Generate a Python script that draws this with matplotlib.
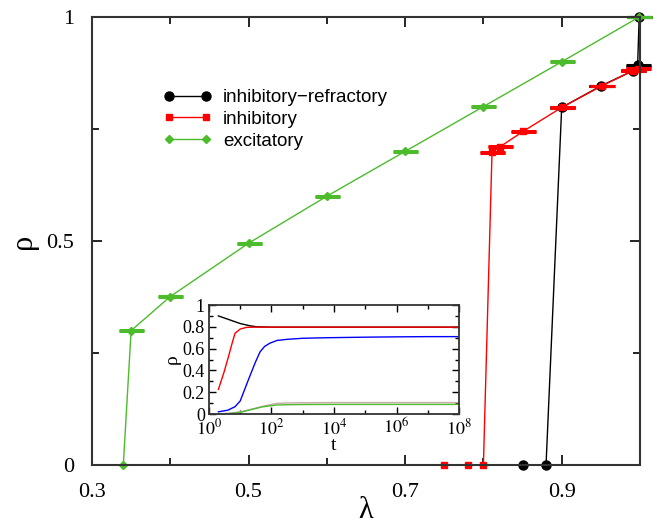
import numpy as np
import matplotlib.pyplot as plt
from matplotlib.ticker import MultipleLocator, FixedLocator, NullFormatter

plt.rcParams['font.family'] = ['Liberation Serif', 'DejaVu Serif']
plt.rcParams['mathtext.fontset'] = 'stix'

# main panel data
lam_exc = [0.34, 0.35, 0.40, 0.50, 0.60, 0.70, 0.80, 0.90, 0.999]
rho_exc = [0.0, 0.30, 0.376, 0.495, 0.60, 0.70, 0.80, 0.90, 1.0]

lam_inh = [0.75, 0.78, 0.80, 0.811, 0.821, 0.851, 0.90, 0.951, 0.991, 0.998]
rho_inh = [0.0, 0.0, 0.0, 0.698, 0.71, 0.745, 0.798, 0.846, 0.880, 0.885]

lam_ref = [0.85, 0.88, 0.90, 0.95, 0.991, 0.997, 0.999]
rho_ref = [0.0, 0.0, 0.798, 0.846, 0.880, 0.892, 1.0]

# inset data: time evolution
t_black = [2, 4, 10, 20, 34, 100, 1e3, 1e4, 1e5, 1e6, 1e7, 1e8]
r_black = [0.90, 0.87, 0.83, 0.81, 0.80, 0.797, 0.797, 0.797, 0.797, 0.797, 0.797, 0.797]
t_red = [2, 3, 4.2, 5.5, 6.8, 10, 16, 30, 100, 1e3, 1e4, 1e5, 1e6, 1e7, 1e8]
r_red = [0.226, 0.38, 0.526, 0.65, 0.74, 0.78, 0.795, 0.797, 0.797, 0.797, 0.797, 0.797, 0.797, 0.797, 0.797]
t_blue = [2, 4, 6.8, 10, 18, 30, 43, 60, 89, 150, 310, 1e3, 6e3, 1e5, 1e6, 1e7, 1e8]
r_blue = [0.02, 0.035, 0.067, 0.12, 0.31, 0.47, 0.57, 0.62, 0.65, 0.675, 0.685, 0.695, 0.70, 0.705, 0.708, 0.71, 0.71]
t_green = [2, 5, 10, 20, 50, 150, 500, 1e3, 1e4, 1e5, 1e6, 1e7, 1e8]
r_green = [0.0, 0.005, 0.015, 0.037, 0.065, 0.083, 0.086, 0.087, 0.088, 0.088, 0.088, 0.088, 0.088]
t_gray = [2, 5, 10, 28, 60, 150, 500, 1e3, 1e4, 1e5, 1e6, 1e7, 1e8]
r_gray = [0.0, 0.008, 0.02, 0.05, 0.075, 0.098, 0.102, 0.103, 0.105, 0.105, 0.105, 0.105, 0.105]

green = '#4cbb2c'

fig = plt.figure(figsize=(6.58, 5.26), dpi=100)
ax = fig.add_axes([0.1398, 0.116, 0.8328, 0.8517])

series = [
    (lam_ref, rho_ref, 'black', 'o', 6.5, 'inhibitory\u2212refractory'),
    (lam_inh, rho_inh, 'red', 's', 4.5, 'inhibitory'),
    (lam_exc, rho_exc, green, 'D', 4.5, 'excitatory'),
]
for x, y, c, m, ms, lab in series:
    x = np.array(x)
    y = np.array(y)
    nz = y > 0
    # error bars only show up as caps (tiny errors)
    ax.errorbar(x[nz], y[nz], yerr=0.001, fmt='none', ecolor=c, capsize=9,
                capthick=2.2, elinewidth=0, clip_on=False)
    ax.plot(x, y, color=c, marker=m, ms=ms, lw=1.0, label=lab, clip_on=False)

ax.set_xlim(0.3, 1.0)
ax.set_ylim(0, 1)
ax.xaxis.set_major_locator(FixedLocator([0.3, 0.5, 0.7, 0.9]))
ax.xaxis.set_minor_locator(FixedLocator([0.4, 0.6, 0.8, 1.0]))
ax.set_xticklabels(['0.3', '0.5', '0.7', '0.9'])
ax.yaxis.set_major_locator(FixedLocator([0, 0.5, 1]))
ax.yaxis.set_minor_locator(FixedLocator([0.25, 0.75]))
ax.set_yticklabels(['0', '0.5', '1'])
ax.tick_params(which='both', direction='in', top=True, right=True, labelsize=16, pad=13)
ax.tick_params(which='major', length=7, width=1.2)
ax.tick_params(which='minor', length=5, width=1.2)
for s in ax.spines.values():
    s.set_linewidth(1.5)
    s.set_color('#333333')
ax.set_xlabel('\u03bb', fontsize=22, labelpad=-4)
ax.set_ylabel('\u03c1', fontsize=22, labelpad=6)

leg = ax.legend(loc='upper left', bbox_to_anchor=(0.099, 0.877), frameon=False,
                numpoints=2, handlelength=2.6, handletextpad=0.6, labelspacing=0.25,
                prop={'family': 'Liberation Sans', 'size': 13.5})

# inset
ins = fig.add_axes([0.3176, 0.2129, 0.380, 0.2072])
ins.semilogx(t_gray, r_gray, color='#c8a8a8', lw=1.0)
ins.semilogx(t_green, r_green, color=green, lw=1.0)
ins.semilogx(t_blue, r_blue, color='blue', lw=1.0)
ins.semilogx(t_black, r_black, color='black', lw=1.0)
ins.semilogx(t_red, r_red, color='red', lw=1.0)
ins.set_xlim(1, 1e8)
ins.set_ylim(0, 1)
ins.xaxis.set_major_locator(FixedLocator([1, 1e2, 1e4, 1e6, 1e8]))
ins.set_xticklabels(['$10^0$', '$10^2$', '$10^4$', '$10^6$', '$10^8$'])
ins.xaxis.set_minor_locator(FixedLocator([10, 1e3, 1e5, 1e7]))
ins.xaxis.set_minor_formatter(NullFormatter())
ins.yaxis.set_major_locator(FixedLocator([0, 0.2, 0.4, 0.6, 0.8, 1.0]))
ins.set_yticklabels(['0', '0.2', '0.4', '0.6', '0.8', '1'])
ins.yaxis.set_minor_locator(MultipleLocator(0.1))
ins.tick_params(which='both', direction='in', top=True, right=True, labelsize=13, pad=3)
ins.tick_params(which='major', length=5, width=1.0)
ins.tick_params(which='minor', length=3, width=1.0)
for s in ins.spines.values():
    s.set_linewidth(1.3)
    s.set_color('#333333')
ins.set_xlabel('t', fontsize=14, labelpad=-1)
ins.set_ylabel('\u03c1', fontsize=14, labelpad=1)

fig.savefig('out.png', dpi=100)
